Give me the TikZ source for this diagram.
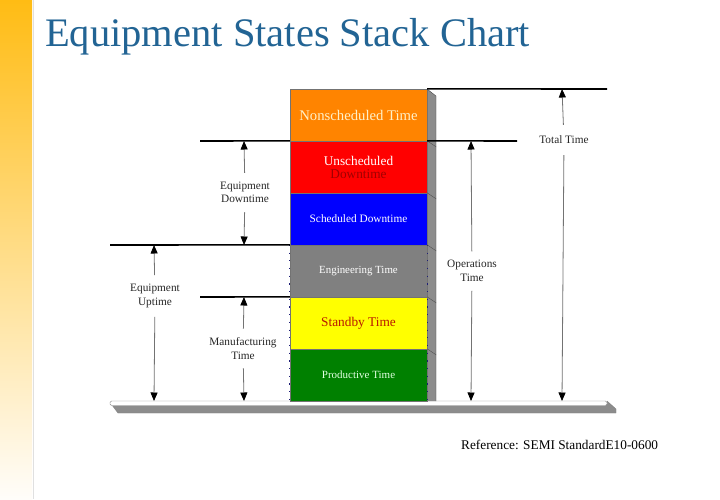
\documentclass[tikz,border=0pt]{standalone}
\usepackage{fontspec}
\setmainfont{Liberation Serif}
\usetikzlibrary{arrows.meta}
\definecolor{titleblue}{RGB}{34,100,148}
\definecolor{segorange}{RGB}{255,132,0}
\definecolor{segred}{RGB}{255,0,0}
\definecolor{segblue}{RGB}{0,0,255}
\definecolor{seggray}{RGB}{128,128,128}
\definecolor{segyellow}{RGB}{255,255,0}
\definecolor{seggreen}{RGB}{0,128,0}
\definecolor{sidegray}{RGB}{140,140,140}
\definecolor{dkred}{RGB}{160,0,0}
\definecolor{stbred}{RGB}{185,25,0}
\definecolor{navydot}{RGB}{30,30,120}
\definecolor{paleyel}{RGB}{255,240,200}
\definecolor{arrgray}{RGB}{115,115,115}
\tikzset{
  seg/.style={draw=black!55, line width=0.3pt, minimum width=137pt, minimum height=52pt, inner sep=0pt, align=center},
  hline/.style={line width=1.6pt, black},
  arr/.style={draw=arrgray, line width=0.8pt, -{Triangle[width=7pt,length=8.5pt,color=black,fill=black]}},
  lbl/.style={font=\fontsize{11.3}{13.5}\selectfont, align=center, inner xsep=0pt, inner ysep=9pt, text=black!85},
  sideline/.style={black!70, line width=0.4pt}
}
\begin{document}
\begin{tikzpicture}[x=1pt,y=-1pt]
\useasboundingbox (0,0) rectangle (720,499);
\fill[white] (0,0) rectangle (720,499);
% left gradient strip
\shade[top color={rgb,255:red,255;green,188;blue,20}, middle color={rgb,255:red,253;green,224;blue,170}, bottom color={rgb,255:red,255;green,253;blue,250}] (0,0) rectangle (32,499);
\draw[black!12, line width=0.6pt] (33,0) -- (33,499);
% title
\node[anchor=base west, inner sep=0pt, text=titleblue, font=\fontsize{40.5}{44}\selectfont] (title) at (45,46) {Equipment States Stack Chart};

% base slab
\fill[sidegray] (112,405) -- (607,405) -- (607,401) -- (616,409) -- (616,413) -- (118,413) -- cycle;
\draw[black!50, line width=0.4pt] (112,405) -- (118,413) -- (616,413) -- (616,409) -- (607,401);
\filldraw[fill=white, draw=black!45, line width=0.4pt, rounded corners=1.5pt] (110,401) rectangle (607,405.5);

% side face of stack
\fill[sidegray] (427,89) -- (436,96) -- (436,401) -- (427,401) -- cycle;
\draw[sideline] (427,89) -- (436,96) -- (436,401);

% stack segments
\node[seg, fill=segorange, text=paleyel, font=\fontsize{14.7}{16}\selectfont] (ns) at (358.5,115) {\raisebox{-2pt}{Nonscheduled Time}};
\node[seg, fill=segred, font=\fontsize{13.3}{14}\selectfont] (ud) at (358.5,167) {\textcolor{white}{Unscheduled}\\[-1pt]\textcolor{dkred}{Downtime}};
\node[seg, fill=segblue, text=white, font=\fontsize{11.3}{13}\selectfont] (sd) at (358.5,219) {Scheduled Downtime};
\node[seg, fill=seggray, text=white, font=\fontsize{10.9}{13}\selectfont] (en) at (358.5,271) {Engineering Time};
\node[seg, fill=segyellow, text=stbred, font=\fontsize{13.3}{15}\selectfont] (sb) at (358.5,323) {Standby Time};
\node[seg, fill=seggreen, text={rgb,255:red,225;green,255;blue,225}, font=\fontsize{11}{13}\selectfont] (pt) at (358.5,375) {Productive Time};

% dotted edges
\draw[navydot, line width=1.1pt, dash pattern=on 1.2pt off 6.5pt] (en.north west) -- (pt.south west);
\draw[navydot, line width=1.1pt, dash pattern=on 1.2pt off 6.5pt] (en.north east) -- (pt.south east);

% side diagonal lines at boundaries
\draw[sideline] (ud.north east) -- ++(9,6);
\draw[sideline] (sd.north east) -- ++(9,6);
\draw[sideline] (en.north east) -- ++(9,6);
\draw[sideline] (sb.north east) -- ++(9,6);
\draw[sideline] (pt.north east) -- ++(9,6);

% coordinates for guide lines
\coordinate (topR) at (607,89);
\coordinate (usR) at (517,141);
\coordinate (usL) at (200,141);
\coordinate (enL) at (110,245);
\coordinate (sbL) at (200,297);

\draw[hline] (ns.north east) -- (topR);
\draw[hline] (ud.north east) -- (usR);
\draw[hline] (ud.north west) -- (usL);
\draw[hline] (en.north west) -- (enL);
\draw[hline] (sb.north west) -- (sbL);

% arrow end coordinates
\coordinate (edT) at (244,141);
\coordinate (edB) at (244,245);
\coordinate (euT) at (154,245);
\coordinate (euB) at (154,401);
\coordinate (mtT) at (244,297);
\coordinate (mtB) at (244,401);
\coordinate (otT) at (471,141);
\coordinate (otB) at (471,401);
\coordinate (ttT) at (562,89);
\coordinate (ttB) at (562,401);

% labels
\node[lbl] (edl) at (245,192.5) {Equipment\\Downtime};
\node[lbl] (eul) at (155,296) {Equipment\\Uptime};
\node[lbl] (mtl) at (243,348.5) {Manufacturing\\Time};
\node[lbl] (otl) at (472,271) {Operations\\Time};
\node[lbl, inner ysep=11pt] (ttl) at (564,140) {Total Time};

\draw[arr] (edl) -- (edT);
\draw[arr] (edl) -- (edB);
\draw[arr] (eul) -- (euT);
\draw[arr] (eul) -- (euB);
\draw[arr] (mtl) -- (mtT);
\draw[arr] (mtl) -- (mtB);
\draw[arr] (otl) -- (otT);
\draw[arr] (otl) -- (otB);
\draw[arr] (ttl) -- (ttT);
\draw[arr] (ttl) -- (ttB);

% reference
\node[anchor=base west, inner sep=0pt, font=\fontsize{13.3}{15}\selectfont] (ref) at (461,449) {Reference: SEMI StandardE10-0600};
\end{tikzpicture}
\end{document}
